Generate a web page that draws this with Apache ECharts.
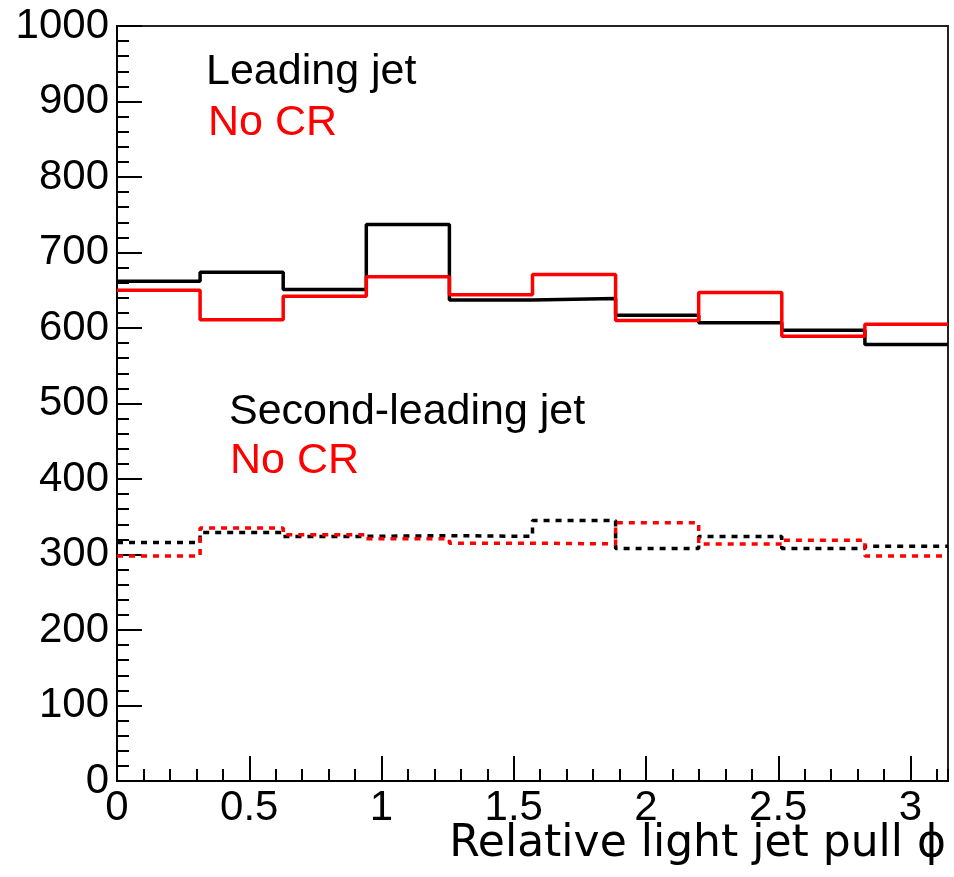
<!DOCTYPE html>
<html>
<head>
<meta charset="utf-8">
<script src="https://cdn.jsdelivr.net/npm/echarts@6/dist/echarts.min.js"></script>
<style>
  html, body { margin: 0; padding: 0; background: #fff; }
  #chart { width: 954px; height: 877px; }
</style>
</head>
<body>
<div id="chart"></div>
<script>
const xMax = Math.PI;
// lower bin edges, 10 bins of pi/10
const binEdges = [0, 0.31416, 0.62832, 0.94248, 1.25664, 1.5708, 1.88496, 2.19911, 2.51327, 2.82743];
const leadingJet = [662, 674, 651, 737, 637, 639, 617, 607, 597, 578];
const leadingNoCR = [650, 611, 642, 668, 644, 671, 610, 647, 589, 605];
const secondJet = [316, 329, 324, 325, 324, 345, 308, 324, 308, 311];
const secondNoCR = [298, 335, 326, 321, 315, 314, 342, 314, 319, 298];
const xTickLabels = ['0', '0.5', '1', '1.5', '2', '2.5', '3'];

const FONT = 'Liberation Sans, Arial, Helvetica, sans-serif';
const TITLE_FONT = 'DejaVu Sans, Liberation Sans, sans-serif';

// step points: one per bin edge, plus the closing edge at pi
function steps(values) {
    const pts = binEdges.map((e, i) => [e, values[i]]);
    pts.push([xMax, values[values.length - 1]]);
    return pts;
}

function histo(name, values, color, dashed) {
    return {
        name: name,
        type: 'line',
        step: 'end',
        data: steps(values),
        symbol: 'none',
        xAxisIndex: 0,
        lineStyle: { color: color, width: 3.5, type: dashed ? [6, 6] : 'solid' },
        z: dashed ? 3 : 4
    };
}

const chart = echarts.init(document.getElementById('chart'));

chart.setOption({
    animation: false,
    backgroundColor: '#ffffff',
    grid: {
        left: 117, right: 6, top: 26, bottom: 96,
        show: true,
        borderColor: '#222',
        borderWidth: 2,
        containLabel: false
    },
    xAxis: [
        {
            // minor ticks every 0.1
            type: 'value', min: 0, max: xMax, interval: 0.1,
            position: 'bottom',
            axisLine: { show: false },
            axisTick: { inside: true, length: 12, lineStyle: { color: '#000', width: 2 } },
            axisLabel: { show: false },
            splitLine: { show: false }
        },
        {
            type: 'value', min: 0, max: xMax, interval: 0.5,
            position: 'bottom',
            axisLine: { onZero: false, lineStyle: { color: '#000', width: 2 } },
            axisTick: { inside: true, length: 25, lineStyle: { color: '#000', width: 2 } },
            axisLabel: {
                color: '#000', fontSize: 42, fontFamily: FONT, margin: 6,
                showMaxLabel: false,
                formatter: v => {
                    const i = Math.round(v / 0.5);
                    return xTickLabels[i] !== undefined ? xTickLabels[i] : '';
                }
            },
            splitLine: { show: false }
        }
    ],
    yAxis: {
        type: 'value', min: 0, max: 1000, interval: 100,
        axisLine: { show: true, lineStyle: { color: '#000', width: 2 } },
        axisTick: { show: true, inside: true, length: 25, lineStyle: { color: '#000', width: 2 } },
        minorTick: { show: true, splitNumber: 5, length: 12, lineStyle: { color: '#000', width: 2 } },
        axisLabel: { color: '#000', fontSize: 42, fontFamily: FONT, margin: 8, formatter: v => String(v) },
        splitLine: { show: false }
    },
    series: [
        histo('Second-leading jet', secondJet, '#000000', true),
        histo('Second-leading jet No CR', secondNoCR, '#ff0000', true),
        histo('Leading jet', leadingJet, '#000000', false),
        histo('Leading jet No CR', leadingNoCR, '#ff0000', false)
    ],
    graphic: [
        { type: 'text', x: 206, y: 72, style: { text: 'Leading jet', fill: '#000', font: '43px ' + FONT, verticalAlign: 'middle' } },
        { type: 'text', x: 208, y: 123, style: { text: 'No CR', fill: '#ff0000', font: '43px ' + FONT, verticalAlign: 'middle' } },
        { type: 'text', x: 229, y: 412, style: { text: 'Second-leading jet', fill: '#000', font: '43px ' + FONT, verticalAlign: 'middle' } },
        { type: 'text', x: 230, y: 461, style: { text: 'No CR', fill: '#ff0000', font: '43px ' + FONT, verticalAlign: 'middle' } },
        { type: 'text', x: 946, y: 845, style: { text: 'Relative light jet pull ϕ', fill: '#000', font: '44px ' + TITLE_FONT, align: 'right', verticalAlign: 'middle' } }
    ]
});
</script>
</body>
</html>
